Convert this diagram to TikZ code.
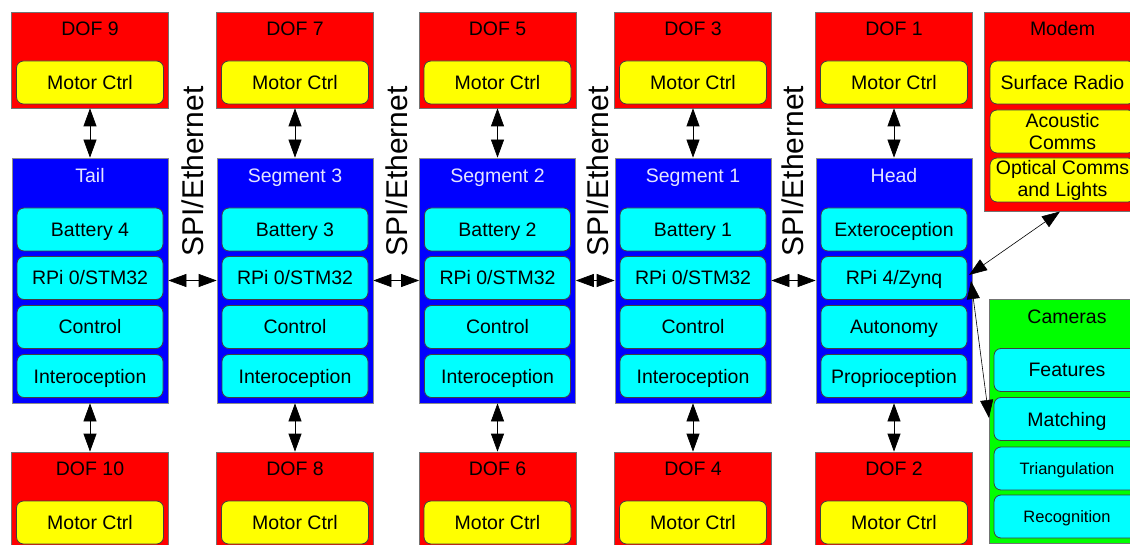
\documentclass[tikz,border=0pt]{standalone}
\usepackage{fontspec}
\setmainfont{Liberation Sans}
\usetikzlibrary{arrows.meta}
\definecolor{ttlw}{rgb}{0.9,0.9,1}
\definecolor{cyanf}{rgb}{0,1,1}
\definecolor{greenf}{rgb}{0,1,0}
\definecolor{redf}{rgb}{1,0,0}
\definecolor{yellowf}{rgb}{1,1,0}
\definecolor{bluef}{rgb}{0,0,1}
\begin{document}
\begin{tikzpicture}[x=1pt,y=-1pt,
  font=\fontsize{19.5}{22}\selectfont,
  redbox/.style={fill=redf, draw=black!55, line width=0.7pt, minimum width=157pt, minimum height=96pt, inner sep=0pt},
  bluebox/.style={fill=bluef, draw=black!45, line width=0.7pt, minimum width=156pt, minimum height=245pt, inner sep=0pt},
  ybox/.style={fill=yellowf, draw=black!75, line width=0.8pt, rounded corners=7pt, minimum width=147pt, minimum height=43pt, inner sep=0pt, align=center},
  cbox/.style={fill=cyanf, draw=black!75, line width=0.8pt, rounded corners=7pt, minimum width=146pt, minimum height=43pt, inner sep=0pt},
  one/.style={text height=14pt, text depth=0pt},
  ttl/.style={inner sep=0pt, text height=14pt, text depth=0pt},
  wttl/.style={ttl, text=ttlw},
  spi/.style={inner sep=0pt, rotate=90, font=\fontsize{30}{30}\selectfont, text height=21.5pt, text depth=0pt},
  small/.style={font=\fontsize{16.5}{18}\selectfont, text height=12pt, text depth=0pt},
  dbl/.style={{Triangle[length=18pt,width=13pt]}-{Triangle[length=18pt,width=13pt]}, line width=0.7pt, black}
]
\useasboundingbox (0,0) rectangle (1130,545);

% ---------- top DOF boxes ----------
\foreach \n/\cx/\lab in {d9/90/DOF 9, d7/295/DOF 7, d5/497.5/DOF 5, d3/693/DOF 3, d1/894/DOF 1}{
  \node[redbox] (\n) at (\cx,60) {};
  \node[ttl] (\n t) at (\cx,28.5) {\lab};
  \node[ybox, one] (\n m) at (\cx,82.5) {Motor Ctrl};
}
% ---------- bottom DOF boxes ----------
\foreach \n/\cx/\lab in {d10/90/DOF 10, d8/295/DOF 8, d6/497.5/DOF 6, d4/693/DOF 4, d2/894/DOF 2}{
  \node[redbox] (\n) at (\cx,500) {};
  \node[ttl] (\n t) at (\cx,468) {\lab};
  \node[ybox, one] (\n m) at (\cx,522.5) {Motor Ctrl};
}
% ---------- segments ----------
\foreach \n/\cx/\lab/\bat in {tail/90/Tail/Battery 4, s3/295/Segment 3/Battery 3, s2/497.5/Segment 2/Battery 2, s1/693/Segment 1/Battery 1}{
  \node[bluebox] (\n) at (\cx,280.5) {};
  \node[wttl] (\n t) at (\cx,175.5) {\lab};
  \node[cbox, one] (\n a) at (\cx,229.5) {\bat};
  \node[cbox, one] (\n b) at (\cx,278) {RPi 0/STM32};
  \node[cbox, one] (\n c) at (\cx,327) {Control};
  \node[cbox, one] (\n d) at (\cx,376) {Interoception};
}
% ---------- head ----------
\node[bluebox] (head) at (894,280.5) {};
\node[wttl] (headt) at (894,175.5) {Head};
\node[cbox, one] (heada) at (894,229.5) {Exteroception};
\node[cbox, one] (headb) at (894,278) {RPi 4/Zynq};
\node[cbox, one] (headc) at (894,327) {Autonomy};
\node[cbox, one] (headd) at (894,376) {Proprioception};

% ---------- modem ----------
\node[redbox, minimum height=199pt] (modem) at (1062.5,111.5) {};
\node[ttl] (modemt) at (1062.5,28.5) {Modem};
\node[ybox, one, minimum width=145pt] (radio) at (1062.5,82.5) {Surface Radio};
\node[ybox, minimum width=145pt] (acou) at (1062.5,131.5) {Acoustic\\Comms};
\node[ybox, minimum width=145pt, minimum height=44pt] (opt) at (1062.5,180) {Optical Comms\\and Lights};

% ---------- cameras ----------
\node[fill=greenf, draw=black!55, line width=0.7pt, minimum width=156pt, minimum height=244pt, inner sep=0pt] (cam) at (1067,421) {};
\node[ttl] (camt) at (1067,316.5) {Cameras};
\node[cbox, one] (feat) at (1067,370) {Features};
\node[cbox, one] (match) at (1067,419) {Matching};
\node[cbox, small] (tri) at (1067,468.5) {Triangulation};
\node[cbox, small] (reco) at (1067,516.5) {Recognition};

% ---------- SPI/Ethernet labels ----------
\node[spi] (spi1) at (192.5,171.5) {SPI/Ethernet};
\node[spi] (spi2) at (396.5,171.5) {SPI/Ethernet};
\node[spi] (spi3) at (597.5,171.5) {SPI/Ethernet};
\node[spi] (spi4) at (792.5,171) {SPI/Ethernet};

% ---------- connectors ----------
\foreach \a/\b/\c in {d9/tail/d10, d7/s3/d8, d5/s2/d6, d3/s1/d4, d1/head/d2}{
  \draw[dbl] (\a.south) -- (\b.north);
  \draw[dbl] (\b.south) -- (\c.north);
}
\draw[dbl] (tail.east) -- (s3.west);
\draw[dbl] (s3.east) -- (s2.west);
\draw[dbl] (s2.east) -- (s1.west);
\draw[dbl] (s1.east) -- (head.west);

\coordinate (mA) at (1060,211.5);
\coordinate (hA) at (969,275);
\coordinate (hB) at (971,281);
\coordinate (cA) at (989,418);
\draw[dbl, line width=0.6pt] (mA) -- (hA);
\draw[dbl, line width=0.6pt] (hB) -- (cA);
\end{tikzpicture}
\end{document}
